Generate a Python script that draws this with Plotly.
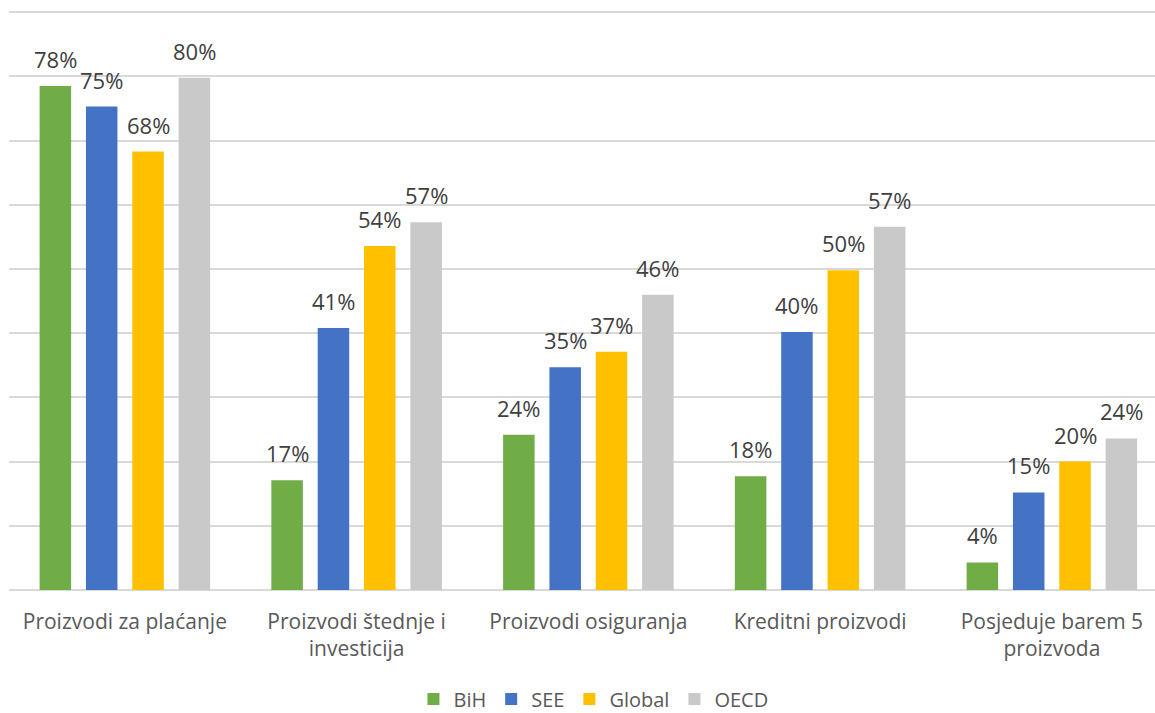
import plotly.graph_objects as go

categories = ["Proizvodi za plaćanje", "Proizvodi štednje i<br>investicija", "Proizvodi osiguranja",
              "Kreditni proizvodi", "Posjeduje barem 5<br>proizvoda"]
series_names = ["BiH", "SEE", "Global", "OECD"]
bih = [0.785, 0.171, 0.242, 0.177, 0.043]
see = [0.753, 0.408, 0.347, 0.402, 0.152]
glob = [0.683, 0.536, 0.371, 0.498, 0.20]
oecd = [0.798, 0.573, 0.46, 0.566, 0.236]
colors = ["#70ad47", "#4472c4", "#ffc000", "#c9c9c9"]

FONT = "Open Sans"
SLOT_PX = 46.3
fig = go.Figure()
annotations = []
all_series = [bih, see, glob, oecd]
for i, (name, vals, col) in enumerate(zip(series_names, all_series, colors)):
    fig.add_trace(go.Bar(
        x=categories, y=vals, name=name, marker=dict(color=col, line=dict(width=0)),
        hoverinfo="name+y",
    ))
    for cat, v in zip(categories, vals):
        annotations.append(dict(
            x=cat, y=v, xref="x", yref="y", text=f"{round(v * 100):d}%",
            showarrow=False, xanchor="center", yanchor="middle",
            xshift=(i - 1.5) * SLOT_PX, yshift=27,
            font=dict(family=FONT, size=22, color="#404040"),
        ))

fig.update_layout(
    width=1155, height=713,
    margin=dict(l=9, r=0, t=9, b=123, autoexpand=False),
    plot_bgcolor="white", paper_bgcolor="white",
    barmode="group", bargap=0.20, bargroupgap=0.32,
    font=dict(family=FONT, size=21, color="#595959"),
    xaxis=dict(showgrid=False, ticks="", tickfont=dict(family=FONT, size=21, color="#595959"),
               showline=False, automargin=False, range=[-0.5, 4.445], ticklabelstandoff=17),
    yaxis=dict(range=[0, 0.905], dtick=0.1, showticklabels=False, showgrid=True,
               gridcolor="#d9d9d9", gridwidth=1.5, zeroline=True, zerolinecolor="#d9d9d9",
               zerolinewidth=2, automargin=False),
    legend=dict(orientation="h", x=0.51, xanchor="center", yref="container", y=0.047,
                yanchor="top", font=dict(family=FONT, size=20, color="#595959"),
                itemwidth=30, traceorder="normal"),
    annotations=annotations,
    showlegend=True,
)
fig.write_html("out.html")
